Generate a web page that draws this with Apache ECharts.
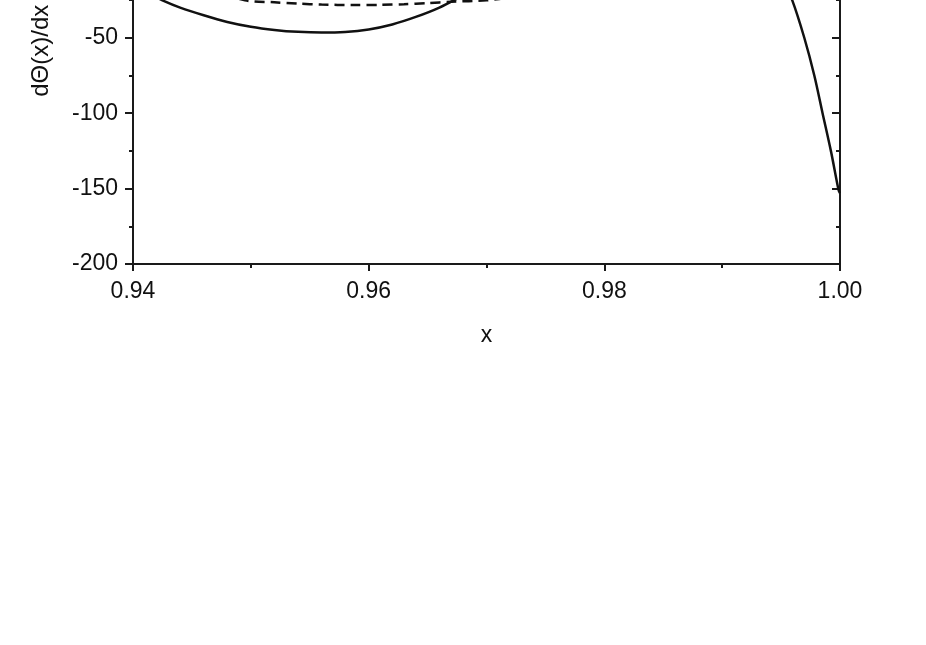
<!DOCTYPE html>
<html>
<head>
<meta charset="utf-8">
<script src="https://cdn.jsdelivr.net/npm/echarts@6/dist/echarts.min.js"></script>
<style>
  html, body { margin: 0; padding: 0; background: #fff; overflow: hidden; }
  #main { position: absolute; left: 0; top: -200px; width: 926px; height: 845px; }
</style>
</head>
<body>
<div id="main"></div>
<script>
// solid curve (x, dTheta/dx)
const solidX = [0.940, 0.941, 0.942, 0.9425, 0.944, 0.946, 0.948, 0.950, 0.952, 0.954, 0.956, 0.958, 0.960, 0.962, 0.964, 0.966, 0.968, 0.970, 0.975, 0.980, 0.985, 0.990, 0.992, 0.994, 0.995, 0.99595, 0.99697, 0.99782, 0.99852, 0.99924, 0.99988, 1.000]
const solidY = [-12, -18, -23, -25.2, -30, -35.1, -39.5, -42.7, -44.8, -46.1, -46.6, -46.2, -44.5, -41.2, -36.2, -30, -22, -14, 0, 8, 12, 13, 10, 2, -9, -25.2, -50, -75, -100, -125.5, -151, -153]
// dashed curve
const dashX = [0.940, 0.944, 0.947, 0.9495, 0.952, 0.954, 0.956, 0.9587, 0.961, 0.963, 0.965, 0.967, 0.970, 0.973, 0.980, 0.990, 1.000]
const dashY = [0, -10, -19, -25.2, -26.5, -27.4, -28, -28.3, -28.2, -27.8, -27.1, -26.1, -25.2, -22, -12, -5, 0]

const xTicks = { min: 0.94, max: 1.0, interval: 0.02 }
const yTicks = { min: -200, max: 100, interval: 50 }

const pairs = (xs, ys) => xs.map((x, i) => [x, ys[i]])

const chart = echarts.init(document.getElementById('main'))
const axisCol = '#1a1a1a'
const font = 'Liberation Sans, Arial, sans-serif'

const xBase = {
  type: 'value',
  min: xTicks.min,
  max: xTicks.max,
  interval: xTicks.interval,
  axisLine: { show: true, onZero: false, lineStyle: { color: axisCol, width: 2 } },
  axisTick: { show: true, inside: false, length: 7, lineStyle: { color: axisCol, width: 2 } },
  minorTick: { show: true, splitNumber: 2, length: 4, lineStyle: { color: axisCol, width: 2 } },
  splitLine: { show: false }
}
const yBase = {
  type: 'value',
  min: yTicks.min,
  max: yTicks.max,
  interval: yTicks.interval,
  axisLine: { show: true, onZero: false, lineStyle: { color: axisCol, width: 2 } },
  axisTick: { show: true, inside: false, length: 8, lineStyle: { color: axisCol, width: 2 } },
  minorTick: { show: true, splitNumber: 2, length: 4, lineStyle: { color: axisCol, width: 2 } },
  splitLine: { show: false }
}

chart.setOption({
  animation: false,
  backgroundColor: '#fff',
  grid: { left: 133, right: 86, top: 11, bottom: 381, containLabel: false },
  xAxis: [
    Object.assign({}, xBase, {
      position: 'bottom',
      name: 'x',
      nameLocation: 'middle',
      nameGap: 60,
      nameTextStyle: { fontFamily: font, fontSize: 23, color: '#111' },
      axisLabel: {
        margin: 16,
        fontFamily: font,
        fontSize: 23,
        color: '#111',
        formatter: v => v.toFixed(2)
      }
    }),
    Object.assign({}, xBase, {
      position: 'top',
      axisTick: Object.assign({}, xBase.axisTick, { inside: true }),
      minorTick: Object.assign({}, xBase.minorTick),
      axisLabel: { show: false }
    })
  ],
  yAxis: [
    Object.assign({}, yBase, {
      position: 'left',
      name: 'dΘ(x)/dx',
      nameLocation: 'middle',
      nameGap: 80,
      nameTextStyle: { fontFamily: font, fontSize: 24, color: '#111', padding: [0, 26, 0, 0] },
      axisLabel: { margin: 15, fontFamily: font, fontSize: 23, color: '#111' }
    }),
    Object.assign({}, yBase, {
      position: 'right',
      axisTick: Object.assign({}, yBase.axisTick, { inside: true }),
      minorTick: Object.assign({}, yBase.minorTick),
      axisLabel: { show: false }
    })
  ],
  series: [
    {
      type: 'line',
      data: pairs(solidX, solidY),
      showSymbol: false,
      smooth: 0.3,
      clip: true,
      lineStyle: { color: '#111', width: 2.5 }
    },
    {
      type: 'line',
      data: pairs(dashX, dashY),
      showSymbol: false,
      smooth: 0.3,
      clip: true,
      lineStyle: { color: '#111', width: 2.5, type: [10, 6] }
    }
  ]
})
</script>
</body>
</html>
